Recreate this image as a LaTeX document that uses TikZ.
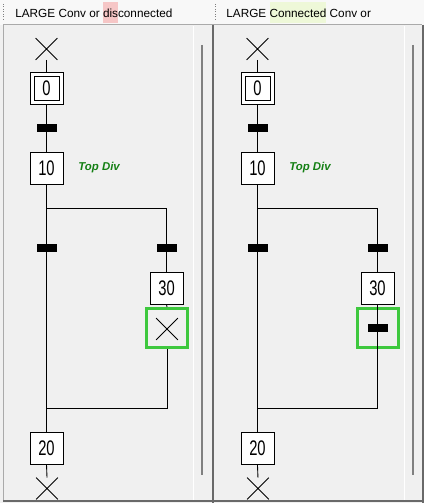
\documentclass[tikz,border=0pt]{standalone}
\usepackage{fontspec}
\setmainfont{Liberation Sans}
\newfontfamily\stepfont{Liberation Sans}[FakeStretch=0.7]
\usetikzlibrary{shapes.misc, positioning}
\definecolor{panelbg}{RGB}{240,240,240}
\definecolor{titlebg}{RGB}{248,248,248}
\definecolor{framegray}{RGB}{170,170,170}
\definecolor{darkframe}{RGB}{105,105,105}
\definecolor{scrollgray}{RGB}{128,128,128}
\definecolor{hlpink}{RGB}{246,198,198}
\definecolor{hlgreen}{RGB}{238,248,216}
\definecolor{divgreen}{RGB}{20,128,20}
\definecolor{selgreen}{RGB}{62,200,62}
\newcommand\hlword[2]{{\setlength{\fboxsep}{0pt}\colorbox{#1}{\rule[-3pt]{0pt}{12pt}#2}}}
\tikzset{
  stepbox/.style={rectangle, draw, fill=white, minimum width=0.66cm,
    minimum height=0.64cm, inner sep=0pt, line width=0.5pt,
    font=\stepfont\fontsize{12}{12}\selectfont},
  initinner/.style={stepbox, fill=none, minimum width=0.5cm,
    minimum height=0.48cm},
  transbar/.style={rectangle, fill=black, minimum width=0.4cm,
    minimum height=0.16cm, inner sep=0pt},
  endcross/.style={cross out, draw, minimum size=0.42cm, inner sep=0pt,
    line width=0.45pt},
  selbox/.style={rectangle, draw=selgreen, line width=0.06cm,
    minimum width=0.82cm, minimum height=0.78cm, inner sep=0pt},
  link/.style={line width=0.5pt},
  divlabel/.style={font=\fontsize{6.5}{8}\selectfont\bfseries\itshape,
    text=divgreen, anchor=west, inner sep=0pt},
  titletext/.style={font=\fontsize{6.7}{8}\selectfont, anchor=base west,
    inner sep=0pt},
  frame/.style={color=framegray, line width=0.02cm},
  darkedge/.style={color=darkframe, line width=0.04cm},
  scrollbar/.style={color=scrollgray, line width=0.04cm},
  grip/.style={color=scrollgray, line width=0.02cm,
    dash pattern=on 0.02cm off 0.03cm}
}

\begin{document}
\begin{tikzpicture}[x=0.02cm, y=-0.02cm]
  \useasboundingbox (0,0) rectangle (424,503);
  % window background
  \fill[panelbg] (0,0) rectangle (424,503);
  \fill[titlebg] (0,0) rectangle (424,25);
  \draw[frame] (3,25) -- (422,25);
  \draw[frame] (3,25) -- (3,501);
  \draw[darkframe, line width=0.03cm] (3,501) -- (424,501);
  \draw[darkedge] (212.5,25) -- (212.5,503);
  \draw[darkedge] (422.5,25) -- (422.5,503);
  \draw[white, line width=0.02cm] (193,26) -- (193,500);
  \draw[white, line width=0.02cm] (404,26) -- (404,500);
  \draw[scrollbar] (202,45) -- (202,475);
  \draw[scrollbar] (413,45) -- (413,475);
  \draw[grip] (3,4) -- (3,21);
  \draw[grip] (215.5,4) -- (215.5,21);

  % titles
  \node[titletext] (Ltitle) at (15,17.5) {LARGE Conv or \hlword{hlpink}{dis}connected};
  \node[titletext] (Rtitle) at (226,17.5) {LARGE \hlword{hlgreen}{Connected} Conv or};

  % left chart: disconnected
  \node[endcross] (Linit) at (46.5,49) {};
  \node[stepbox] (L0) at (46.5,88) {};
  \node[initinner] (L0in) at (46.5,88) {0};
  \node[transbar] (Lt1) at (47,128) {};
  \node[stepbox] (L10) at (46.5,168) {10};
  \node[divlabel] (Ldiv) at (78,168) {Top Div};
  \coordinate (Lsplit) at (46.5,208);
  \coordinate (Ljoin) at (46.5,408);
  \node[transbar] (Lt2) at (47,248) {};
  \node[transbar] (Lt3) at (167,248) {};
  \node[stepbox] (L30) at (166.5,288) {30};
  \node[selbox] (Lsel) at (167,328) {};
  \node[endcross] (Lopen) at (167,329) {};
  \node[stepbox] (L20) at (46.5,448) {20};
  \node[endcross] (Lend) at (47,488.5) {};
  \draw[link] (Linit.south) -- (L0.north);
  \draw[link] (L0.south) -- (L10.north);
  \draw[link] (L10.south) -- (L20.north);
  \draw[link] (Lsplit) -| (L30.north);
  \draw[link] (L30.south) -- (Lsel.north);
  \draw[link] (Lsel.south) |- (Ljoin);
  \draw[link] (L20.south) -- (Lend.north);

  % right chart: connected
  \begin{scope}[xshift=4.22cm]
    \node[endcross] (Rinit) at (46.5,49) {};
    \node[stepbox] (R0) at (46.5,88) {};
    \node[initinner] (R0in) at (46.5,88) {0};
    \node[transbar] (Rt1) at (47,128) {};
    \node[stepbox] (R10) at (46.5,168) {10};
    \node[divlabel] (Rdiv) at (78,168) {Top Div};
    \coordinate (Rsplit) at (46.5,208);
    \coordinate (Rjoin) at (46.5,408);
    \node[transbar] (Rt2) at (47,248) {};
    \node[transbar] (Rt3) at (167,248) {};
    \node[stepbox] (R30) at (166.5,288) {30};
    \node[selbox] (Rsel) at (167,328) {};
    \node[stepbox] (R20) at (46.5,448) {20};
    \node[endcross] (Rend) at (47,488.5) {};
    \draw[link] (Rinit.south) -- (R0.north);
    \draw[link] (R0.south) -- (R10.north);
    \draw[link] (R10.south) -- (R20.north);
    \draw[link] (Rsplit) -| (R30.north);
    \draw[link] (R30.south) |- (Rjoin);
    \draw[link] (R20.south) -- (Rend.north);
    \node[transbar] (Rt4) at (167,328) {};
  \end{scope}
\end{tikzpicture}
\end{document}
